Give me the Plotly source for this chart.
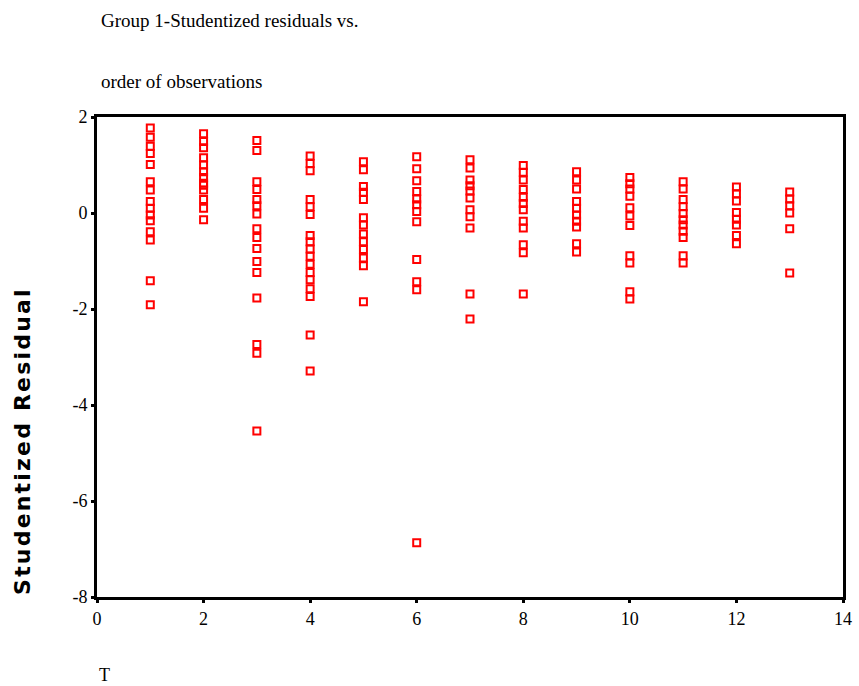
import plotly.graph_objects as go

# Studentized residuals grouped by order T
t_values = [1, 2, 3, 4, 5, 6, 7, 8, 9, 10, 11, 12, 13]
res_t1 = [1.77, 1.58, 1.39, 1.24, 1.01, 0.65, 0.48, 0.24, 0.10, -0.04, -0.16, -0.39, -0.56, -1.41, -1.91]
res_t2 = [1.65, 1.49, 1.36, 1.15, 1.00, 0.86, 0.74, 0.62, 0.58, 0.48, 0.28, 0.10, -0.14]
res_t3 = [1.51, 1.30, 0.65, 0.49, 0.28, 0.15, -0.02, -0.33, -0.51, -0.74, -1.01, -1.24, -1.77, -2.74, -2.92, -4.54]
res_t4 = [1.19, 1.03, 0.88, 0.28, 0.13, -0.03, -0.47, -0.60, -0.75, -0.90, -1.07, -1.24, -1.39, -1.58, -1.74, -2.54, -3.29]
res_t5 = [1.07, 0.90, 0.55, 0.43, 0.28, -0.10, -0.25, -0.44, -0.60, -0.76, -0.94, -1.10, -1.85]
res_t6 = [1.17, 0.92, 0.67, 0.45, 0.29, 0.17, 0.03, -0.18, -0.97, -1.43, -1.60, -6.87]
res_t7 = [1.11, 0.94, 0.69, 0.57, 0.46, 0.31, 0.07, -0.08, -0.31, -1.69, -2.21]
res_t8 = [0.99, 0.85, 0.69, 0.49, 0.33, 0.20, 0.07, -0.17, -0.31, -0.66, -0.83, -1.69]
res_t9 = [0.86, 0.69, 0.50, 0.24, 0.10, -0.04, -0.17, -0.29, -0.64, -0.81]
res_t10 = [0.74, 0.61, 0.50, 0.35, 0.11, -0.06, -0.26, -0.89, -1.04, -1.64, -1.79]
res_t11 = [0.65, 0.50, 0.28, 0.13, -0.01, -0.14, -0.25, -0.38, -0.51, -0.89, -1.04]
res_t12 = [0.54, 0.40, 0.25, 0.01, -0.13, -0.25, -0.47, -0.64]
res_t13 = [0.44, 0.29, 0.15, 0.00, -0.33, -1.25]

residuals = [res_t1, res_t2, res_t3, res_t4, res_t5, res_t6, res_t7,
             res_t8, res_t9, res_t10, res_t11, res_t12, res_t13]

x_ticks = [0, 2, 4, 6, 8, 10, 12, 14]
y_ticks = [-8, -6, -4, -2, 0, 2]

xs, ys = [], []
for t, vals in zip(t_values, residuals):
    xs.extend([t] * len(vals))
    ys.extend(vals)

fig = go.Figure()
fig.add_trace(go.Scatter(
    x=xs, y=ys, mode="markers",
    marker=dict(symbol="square-open", size=7, color="#ff0000",
                line=dict(width=2, color="#ff0000")),
    showlegend=False, hoverinfo="x+y"
))

serif = "Liberation Serif, Times New Roman, serif"
ytitle = "\u200a".join("Studentized Residual")

fig.update_layout(
    width=859, height=686,
    margin=dict(l=97, r=7, t=117, b=89),
    paper_bgcolor="white", plot_bgcolor="white",
    font=dict(family=serif, size=18, color="black"),
    xaxis=dict(range=[0, 14], tickvals=x_ticks, ticktext=[str(v) for v in x_ticks],
               showgrid=False, zeroline=False, showline=True, linecolor="black",
               linewidth=3, mirror=True, ticks="outside", ticklen=3, tickwidth=3,
               tickcolor="black", tickfont=dict(family=serif, size=18)),
    yaxis=dict(range=[-8, 2], tickvals=y_ticks, ticktext=[str(v) for v in y_ticks],
               showgrid=False, zeroline=False, showline=True, linecolor="black",
               linewidth=3, mirror=True, ticks="outside", ticklen=3, tickwidth=3,
               tickcolor="black", tickfont=dict(family=serif, size=18)),
    annotations=[
        dict(text="Group 1-Studentized residuals vs.", xref="paper", yref="paper",
             x=0.003, y=1.202, xanchor="left", yanchor="middle", showarrow=False,
             font=dict(family=serif, size=19)),
        dict(text="order of observations", xref="paper", yref="paper",
             x=0.003, y=1.073, xanchor="left", yanchor="middle", showarrow=False,
             font=dict(family=serif, size=19)),
        dict(text="T", xref="paper", yref="paper",
             x=0.0, y=-0.1625, xanchor="left", yanchor="middle", showarrow=False,
             font=dict(family=serif, size=18)),
        dict(text="<b>" + ytitle + "</b>", xref="paper", yref="paper",
             x=-0.1, y=0.0, xanchor="center", yanchor="bottom", textangle=-90,
             showarrow=False,
             font=dict(family="DejaVu Sans, sans-serif", size=22)),
    ],
)

fig.write_html(
    "out.html",
    config={"displayModeBar": False},
    post_script="document.body.style.margin='0';document.body.style.overflow='hidden';",
)
